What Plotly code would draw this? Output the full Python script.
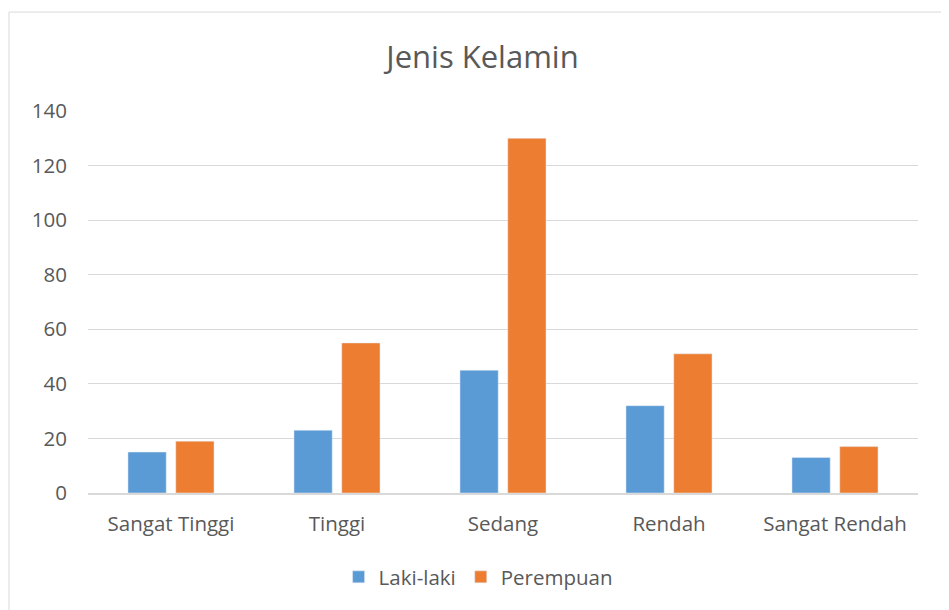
import plotly.graph_objects as go

categories = ["Sangat Tinggi", "Tinggi", "Sedang", "Rendah", "Sangat Rendah"]
laki_laki = [15, 23, 45, 32, 13]
perempuan = [19, 55, 130, 51, 17]
y_ticks = [0, 20, 40, 60, 80, 100, 120, 140]

fig = go.Figure()
fig.add_trace(go.Bar(name="Laki-laki", x=categories, y=laki_laki, marker_color="#5b9bd5"))
fig.add_trace(go.Bar(name="Perempuan", x=categories, y=perempuan, marker_color="#ed7d31"))

font_family = "Open Sans"
fig.update_layout(
    width=949, height=610,
    margin=dict(l=80, r=39, t=103, b=125),
    paper_bgcolor="white", plot_bgcolor="white",
    barmode="group", bargap=0.424, bargroupgap=0.2,
    title=dict(text="Jenis Kelamin", x=0.5, xanchor="center", y=0.92, yanchor="middle",
               font=dict(family=font_family, size=31, color="#595959")),
    font=dict(family=font_family, color="#595959", size=20.5),
    legend=dict(orientation="h", x=0.47, xanchor="center", y=-0.22, yanchor="middle",
                font=dict(size=20.5, color="#595959"), itemwidth=30),
    xaxis=dict(showgrid=False, showline=True, linecolor="#d9d9d9", linewidth=1.5,
               ticks="", ticklabelstandoff=12, tickfont=dict(size=20.5, color="#595959")),
    yaxis=dict(range=[0, 140], tickvals=y_ticks, showgrid=True, gridcolor="#d9d9d9",
               gridwidth=1, zeroline=False, showline=False, ticks="",
               ticklabelstandoff=20, tickfont=dict(size=20.5, color="#595959")),
    shapes=[dict(type="rect", xref="paper", yref="paper", x0=-0.0952, y0=-0.4, x1=1.1, y1=1.259,
                 line=dict(color="#d9d9d9", width=1), fillcolor="rgba(0,0,0,0)", layer="below")],
)

fig.write_html("out.html")
